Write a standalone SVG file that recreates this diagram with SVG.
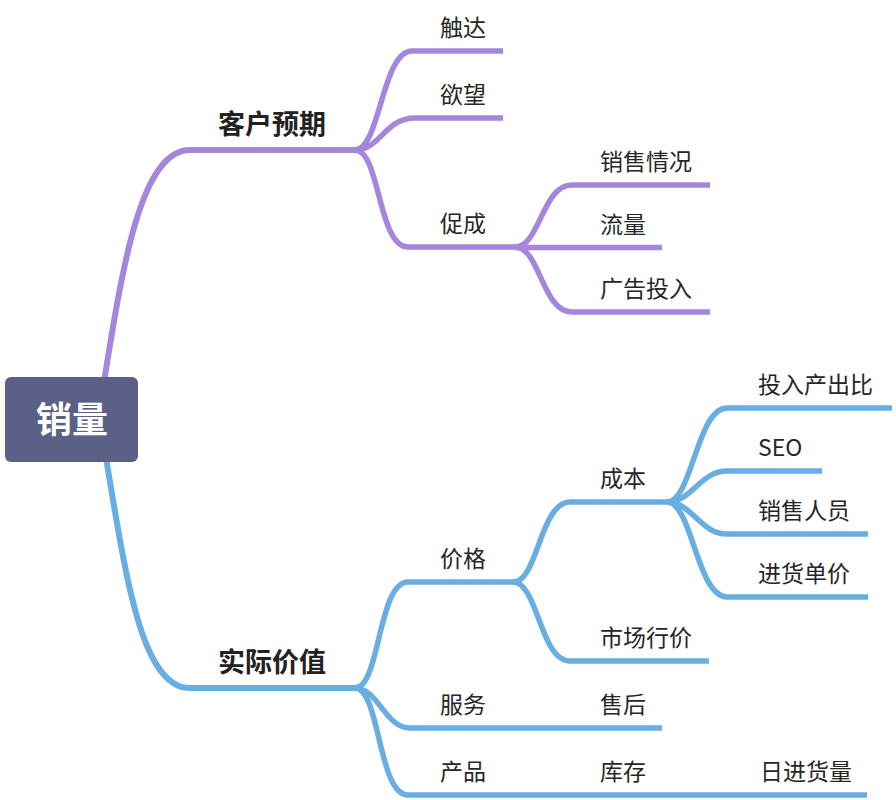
<svg xmlns="http://www.w3.org/2000/svg" width="896" height="800" viewBox="0 0 896 800">
<style>
.p{fill:none;stroke:#a486dc;stroke-width:5.5;stroke-linecap:butt;stroke-linejoin:round}
.b{fill:none;stroke:#69aee3;stroke-width:5.5;stroke-linecap:butt;stroke-linejoin:round}
.t1{stroke-width:6}
text{font-family:"Noto Sans CJK SC","Noto Sans",sans-serif;fill:#262626}
.l{font-size:23px}
.m{font-size:27px;font-weight:bold;fill:#222}
.r{font-size:36px;font-weight:bold;fill:#fff;text-anchor:middle}
</style>
<rect width="896" height="800" fill="#fff"/>
<g id="connectors">
<path class="p t1" d="M103,388 C122,270 140,150 190,150 L357,150"/>
<path class="p" d="M355,150 C380,150 382,51 412,51 L503,51"/>
<path class="p" d="M355,150 C380,150 385,118 415,118 L503,118"/>
<path class="p" d="M355,150 C380,150 378,247 408,247 L517,247"/>
<path class="p" d="M515,247 C540,247 542,185 572,185 L710,185"/>
<path class="p" d="M515,247.5 L662,247.5"/>
<path class="p" d="M515,247 C540,247 542,312 572,312 L710,312"/>
<path class="b t1" d="M105,452 C125,570 140,688 190,688 L357,688"/>
<path class="b" d="M355,688 C380,688 378,582 408,582 L515,582"/>
<path class="b" d="M355,688 C378,688 385,728 410,728 L503,728"/>
<path class="b" d="M355,688 C380,688 378,795 408,795 L503,795"/>
<path class="b" d="M513,582 C538,582 540,502 570,502 L668,502"/>
<path class="b" d="M513,582 C538,582 540,661 570,661 L709,661"/>
<path class="b" d="M667,502 C692,502 697,408 727,408 L892,408"/>
<path class="b" d="M667,502 C692,502 700,471 727,471 L822,471"/>
<path class="b" d="M667,502 C692,502 700,534 727,534 L868,534"/>
<path class="b" d="M667,502 C692,502 697,597 727,597 L868,597"/>
<path class="b" d="M503,728 L662,728"/>
<path class="b" d="M503,795 L662,795"/>
<path class="b" d="M662,795 L867,795"/>
</g>
<g id="root"><rect x="5" y="377" width="133" height="85" rx="6" fill="#5b6087"/><text class="r" x="72" y="433">销量</text></g>
<g id="n-kehuyuqi"><text class="m" x="218" y="134">客户预期</text></g>
<g id="n-chuda"><text class="l" x="440" y="36">触达</text></g>
<g id="n-yuwang"><text class="l" x="440" y="103">欲望</text></g>
<g id="n-cucheng"><text class="l" x="440" y="232">促成</text></g>
<g id="n-xiaoshouqingkuang"><text class="l" x="600" y="170">销售情况</text></g>
<g id="n-liuliang"><text class="l" x="600" y="233">流量</text></g>
<g id="n-guanggaotouru"><text class="l" x="600" y="297">广告投入</text></g>
<g id="n-shijijiazhi"><text class="m" x="218" y="672">实际价值</text></g>
<g id="n-jiage"><text class="l" x="440" y="567">价格</text></g>
<g id="n-fuwu"><text class="l" x="440" y="713">服务</text></g>
<g id="n-chanpin"><text class="l" x="440" y="780">产品</text></g>
<g id="n-chengben"><text class="l" x="600" y="487">成本</text></g>
<g id="n-shichanghangjia"><text class="l" x="600" y="646">市场行价</text></g>
<g id="n-shouhou"><text class="l" x="600" y="713">售后</text></g>
<g id="n-kucun"><text class="l" x="600" y="780">库存</text></g>
<g id="n-rijinhuoliang"><text class="l" x="760" y="780">日进货量</text></g>
<g id="n-touruchanchubi"><text class="l" x="758" y="393">投入产出比</text></g>
<g id="n-seo"><text class="l" x="758" y="456">SEO</text></g>
<g id="n-xiaoshourenyuan"><text class="l" x="758" y="519">销售人员</text></g>
<g id="n-jinhuodanjia"><text class="l" x="758" y="582">进货单价</text></g>
</svg>
